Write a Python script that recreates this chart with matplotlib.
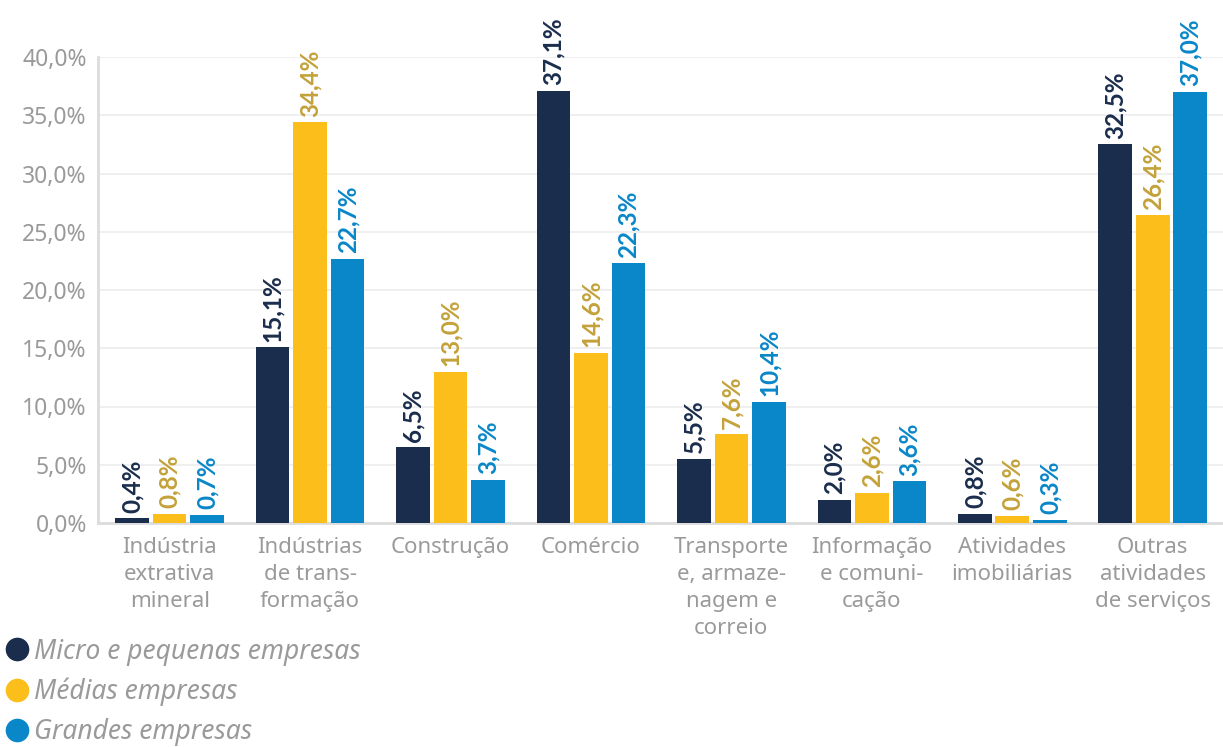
import matplotlib
matplotlib.use("Agg")
import matplotlib.pyplot as plt
from matplotlib.lines import Line2D
import numpy as np

categories = ["Indústria\nextrativa\nmineral", "Indústrias\nde trans-\nformação", "Construção",
              "Comércio", "Transporte\ne, armaze-\nnagem e\ncorreio", "Informação\ne comuni-\ncação",
              "Atividades\nimobiliárias", "Outras\natividades\nde serviços"]
series_names = ["Micro e pequenas empresas", "Médias empresas", "Grandes empresas"]
micro = [0.4, 15.1, 6.5, 37.1, 5.5, 2.0, 0.8, 32.5]
medias = [0.8, 34.4, 13.0, 14.6, 7.6, 2.6, 0.6, 26.4]
grandes = [0.7, 22.7, 3.7, 22.3, 10.4, 3.6, 0.3, 37.0]
yticks = [0, 5, 10, 15, 20, 25, 30, 35, 40]

bar_colors = ["#1b2d4c", "#fbbe1a", "#0a87c9"]
label_colors = ["#1b2d4c", "#c4a23a", "#0a87c9"]
gray = "#9a9a9a"
FONT = "Noto Sans"

fig = plt.figure(figsize=(12.23, 7.47), dpi=100)
ax = fig.add_axes([98/1223, 1 - 523/747, (1223 - 98)/1223, (523 - 57)/747])

x = np.arange(len(categories))
width = 0.24
step = 0.267
for i, vals in enumerate([micro, medias, grandes]):
    pos = x + (i - 1) * step
    ax.bar(pos, vals, width=width, color=bar_colors[i], zorder=3)
    for p, v in zip(pos, vals):
        ax.annotate(f"{v:.1f}".replace(".", ",") + "%", (p, v), xytext=(0, 4),
                    textcoords="offset points", rotation=90, ha="center", va="bottom",
                    fontsize=17.5, fontweight="bold", color=label_colors[i],
                    family="Lato", annotation_clip=False)

ax.set_xlim(-0.51, 7.5)
ax.set_ylim(0, 40)
ax.set_yticks(yticks)
ax.set_yticklabels([f"{t:.1f}".replace(".", ",") + "%" for t in yticks],
                   fontsize=16.5, color=gray, family=FONT)
ax.set_xticks(x)
ax.set_xticklabels(categories, fontsize=16, color=gray, family=FONT,
                   linespacing=1.38, va="top")
ax.tick_params(axis="both", length=0, pad=8)
ax.tick_params(axis="x", pad=10)
ax.grid(axis="y", color="#ececec", linewidth=1.2, zorder=0)
for s in ["top", "right"]:
    ax.spines[s].set_visible(False)
for s in ["left", "bottom"]:
    ax.spines[s].set_color("#dcdcdc")
    ax.spines[s].set_linewidth(2)
ax.spines["left"].set_zorder(4)

handles = [Line2D([], [], marker="o", linestyle="none", markersize=16,
                  markerfacecolor=c, markeredgecolor=c) for c in bar_colors]
leg = fig.legend(handles, series_names, loc="lower left", bbox_to_anchor=(-0.007, -0.016),
                 frameon=False, handletextpad=0.15, labelspacing=0.45, borderaxespad=0.1,
                 handlelength=0.95, prop={"family": FONT, "style": "italic", "size": 19})
for t in leg.get_texts():
    t.set_color(gray)

fig.savefig("out.png", dpi=100)
